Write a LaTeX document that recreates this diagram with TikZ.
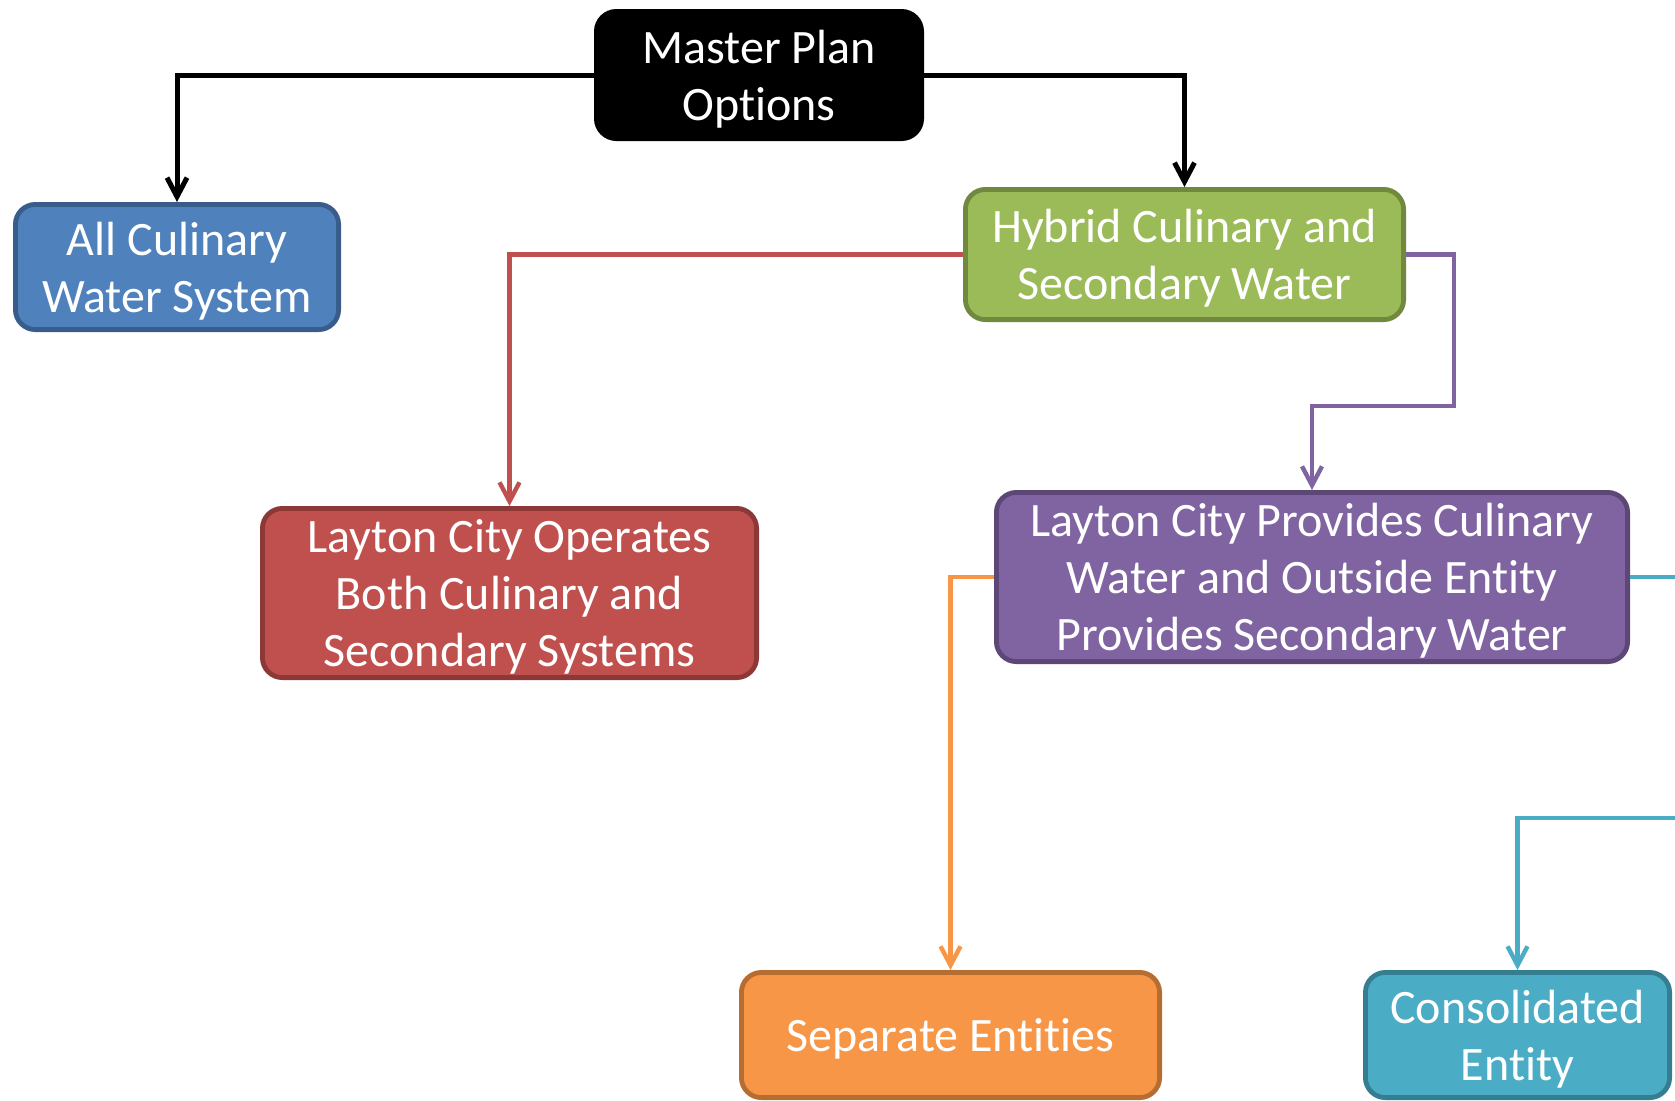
\documentclass[tikz,border=0pt]{standalone}
\usepackage{fontspec}
\setmainfont[Ligatures=NoCommon]{Carlito}
\usetikzlibrary{arrows.meta}
\definecolor{bluef}{HTML}{4F81BD}\definecolor{blued}{HTML}{385D8A}
\definecolor{redf}{HTML}{C0504D}\definecolor{redd}{HTML}{8C3836}
\definecolor{grnf}{HTML}{9BBB59}\definecolor{grnd}{HTML}{71893F}
\definecolor{purf}{HTML}{8064A2}\definecolor{purd}{HTML}{5C4776}
\definecolor{oraf}{HTML}{F79646}\definecolor{orad}{HTML}{B66D31}
\definecolor{cyaf}{HTML}{4BACC6}\definecolor{cyad}{HTML}{357D91}
\tikzset{
  box/.style={rectangle, rounded corners=10pt, line width=2.4pt, text=white, align=center,
    font=\fontsize{24}{28.5}\selectfont, inner sep=0pt, text depth=0pt},
  conn/.style={line width=2.2pt, -{Straight Barb[length=9.5pt,width=10pt]}},
  connblk/.style={conn, line width=2.5pt, black},
}
\begin{document}
\begin{tikzpicture}[x=0.5pt,y=-0.5pt]
\useasboundingbox (0,0) rectangle (1675,1100);
\clip (0,0) rectangle (1675,1100);
\node[box, fill=black, draw=black, minimum width=162.6pt, minimum height=63.6pt] (mp) at (759,75) {Master Plan\\Options};
\node[box, fill=bluef, draw=blued, minimum width=161.6pt, minimum height=62.6pt] (all) at (177,267) {All Culinary\\Water System};
\node[box, fill=grnf, draw=grnd, minimum width=219.1pt, minimum height=65.1pt] (hyb) at (1184.5,254.5) {Hybrid Culinary and\\Secondary Water};
\node[box, fill=redf, draw=redd, minimum width=247.1pt, minimum height=84.6pt] (red) at (509.5,593) {Layton City Operates\\Both Culinary and\\Secondary Systems};
\node[box, fill=purf, draw=purd, minimum width=315.6pt, minimum height=84.6pt] (pur) at (1312,577) {Layton City Provides Culinary\\Water and Outside Entity\\Provides Secondary Water};
\node[box, fill=oraf, draw=orad, minimum width=209.1pt, minimum height=62.6pt] (sep) at (950.5,1035) {Separate Entities};
\node[box, fill=cyaf, draw=cyad, minimum width=152.1pt, minimum height=62.6pt] (con) at (1517.5,1035) {Consolidated\\Entity};
\coordinate (p1) at (1454,406);
\coordinate (c1) at (1740,818);
\draw[connblk] (mp.west) -| (all.north);
\draw[connblk] (mp.east) -| (hyb.north);
\draw[conn, redf] (hyb.west) -| (red.north);
\draw[conn, purf] (hyb.east) -| (p1) -| (pur.north);
\draw[conn, oraf] (pur.west) -| (sep.north);
\draw[conn, cyaf] (pur.east) -| (c1) -| (con.north);
\end{tikzpicture}
\end{document}
